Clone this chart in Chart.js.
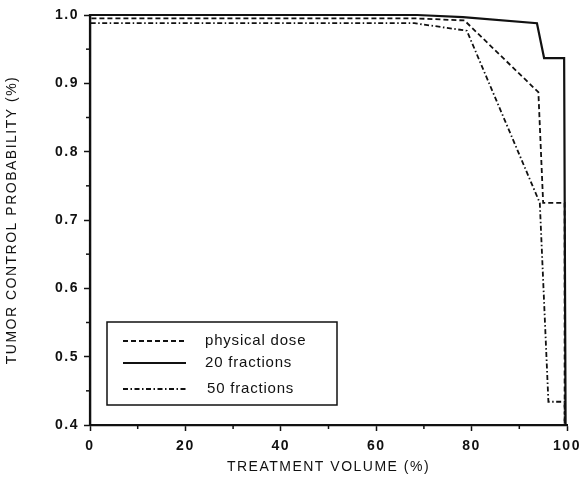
<!DOCTYPE html>
<html>
<head>
<meta charset="utf-8">
<script src="https://cdn.jsdelivr.net/npm/chart.js@4"></script>
<style>
  html, body { margin: 0; padding: 0; background: #fff; }
  #wrap { width: 584px; height: 480px; }
</style>
</head>
<body>
<div id="wrap"><canvas id="tcp"></canvas></div>
<script>
// values
const physicalVolume = [0, 0, 68.5, 78.5, 94.0, 95.0, 99.5, 99.5];
const physicalTcp    = [0.4, 0.995, 0.995, 0.992, 0.887, 0.725, 0.725, 0.4];

const frac20Volume = [0, 0, 68.6, 78.2, 93.7, 95.2, 99.4, 99.7];
const frac20Tcp    = [0.4, 1.0, 1.0, 0.997, 0.988, 0.937, 0.937, 0.4];

const frac50Volume = [0, 0, 68.0, 79.0, 94.3, 96.1, 99.5, 99.5];
const frac50Tcp    = [0.4, 0.988, 0.988, 0.977, 0.725, 0.434, 0.434, 0.4];

const seriesNames = ['physical dose', '20 fractions', '50 fractions'];
const xTicks = [0, 20, 40, 60, 80, 100];
const yTicks = [0.4, 0.5, 0.6, 0.7, 0.8, 0.9, 1.0];

const DASH = [5, 3];
const DASHDOT = [5, 2.5, 1.5, 2.5];
const FONT = '"Liberation Sans", Arial, sans-serif';

function toPoints(xs, ys) {
    return xs.map((x, i) => ({ x: x, y: ys[i] }));
}

// the scanned lettering is wide, so space it out a little
const spacingPlugin = {
    id: 'spacing',
    beforeDraw(chart) {
        chart.ctx.letterSpacing = '1.5px';
    }
};

// minor ticks (halfway between labelled ones) and the legend box
const extrasPlugin = {
    id: 'extras',
    afterDraw(chart) {
        const ctx = chart.ctx;
        const xs = chart.scales.x, ys = chart.scales.y;
        const area = chart.chartArea;
        ctx.save();
        ctx.strokeStyle = '#111';
        ctx.lineWidth = 1.5;
        ctx.setLineDash([]);
        for (let v = 10; v < 100; v += 20) {
            const px = xs.getPixelForValue(v);
            ctx.beginPath();
            ctx.moveTo(px, area.bottom);
            ctx.lineTo(px, area.bottom + 4);
            ctx.stroke();
        }
        for (let v = 0.45; v < 1.0; v += 0.1) {
            const py = ys.getPixelForValue(v);
            ctx.beginPath();
            ctx.moveTo(area.left - 4, py);
            ctx.lineTo(area.left, py);
            ctx.stroke();
        }

        // legend box in lower left of the plot
        const bx = area.left + 17, by = area.bottom - 103, bw = 230, bh = 83;
        ctx.lineWidth = 1.5;
        ctx.strokeRect(bx, by, bw, bh);
        const styles = [
            { dash: DASH, w: 1.8 },
            { dash: [], w: 2.2 },
            { dash: DASHDOT, w: 1.8 }
        ];
        const rows = [by + 19, by + 41, by + 67];
        ctx.font = '15px ' + FONT;
        ctx.letterSpacing = '0.8px';
        ctx.fillStyle = '#111';
        ctx.textBaseline = 'middle';
        seriesNames.forEach((name, i) => {
            ctx.setLineDash(styles[i].dash);
            ctx.lineWidth = styles[i].w;
            ctx.beginPath();
            ctx.moveTo(bx + 16, rows[i]);
            ctx.lineTo(bx + 79, rows[i]);
            ctx.stroke();
            ctx.setLineDash([]);
            ctx.fillText(name, bx + (i === 2 ? 100 : 98), rows[i]);
        });
        ctx.restore();
    }
};

const lineDefaults = {
    showLine: true,
    borderColor: '#111',
    pointRadius: 0,
    tension: 0,
    fill: false,
    clip: false
};

new Chart(document.getElementById('tcp'), {
    type: 'scatter',
    data: {
        datasets: [
            Object.assign({}, lineDefaults, {
                label: seriesNames[0],
                data: toPoints(physicalVolume, physicalTcp),
                borderWidth: 1.8,
                borderDash: DASH
            }),
            Object.assign({}, lineDefaults, {
                label: seriesNames[1],
                data: toPoints(frac20Volume, frac20Tcp),
                borderWidth: 2.2
            }),
            Object.assign({}, lineDefaults, {
                label: seriesNames[2],
                data: toPoints(frac50Volume, frac50Tcp),
                borderWidth: 1.8,
                borderDash: DASHDOT
            })
        ]
    },
    options: {
        responsive: true,
        maintainAspectRatio: false,
        animation: false,
        layout: { padding: { top: 15, right: 17, left: 0, bottom: 0 } },
        plugins: {
            legend: { display: false },
            tooltip: { enabled: false }
        },
        scales: {
            x: {
                type: 'linear',
                min: 0,
                max: 100,
                afterFit(scale) {
                    scale.height = 55;
                    scale.paddingLeft = 0;
                    scale.paddingRight = 0;
                },
                afterBuildTicks(scale) { scale.ticks = xTicks.map(v => ({ value: v })); },
                grid: {
                    drawOnChartArea: false,
                    tickLength: 6,
                    tickWidth: 1.5,
                    tickColor: '#111'
                },
                border: { color: '#111', width: 2.2 },
                ticks: {
                    color: '#111',
                    padding: 7,
                    font: { family: FONT, size: 14, weight: 'bold' }
                },
                title: {
                    display: true,
                    text: 'TREATMENT VOLUME (%)',
                    color: '#111',
                    padding: { top: 3 },
                    font: { family: FONT, size: 14 }
                }
            },
            y: {
                type: 'linear',
                min: 0.4,
                max: 1.0,
                afterFit(scale) {
                    scale.width = 90;
                    scale.paddingTop = 0;
                    scale.paddingBottom = 0;
                },
                afterBuildTicks(scale) { scale.ticks = yTicks.map(v => ({ value: v })); },
                grid: {
                    drawOnChartArea: false,
                    tickLength: 6,
                    tickWidth: 1.5,
                    tickColor: '#111'
                },
                border: { color: '#111', width: 2.2 },
                ticks: {
                    color: '#111',
                    padding: 5,
                    font: { family: FONT, size: 14, weight: 'bold' },
                    callback: v => v.toFixed(1)
                },
                title: {
                    display: true,
                    text: 'TUMOR CONTROL PROBABILITY (%)',
                    color: '#111',
                    padding: { bottom: 0 },
                    font: { family: FONT, size: 14 }
                }
            }
        }
    },
    plugins: [spacingPlugin, extrasPlugin]
});
</script>
</body>
</html>
